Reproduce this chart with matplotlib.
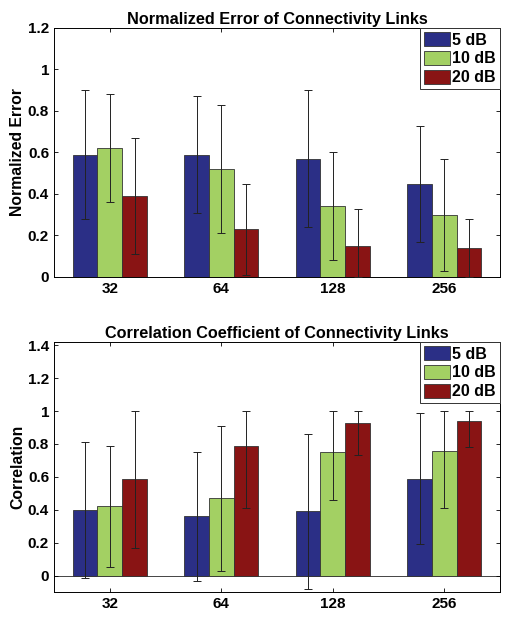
import numpy as np
import matplotlib
matplotlib.use('Agg')
import matplotlib.pyplot as plt

plt.rcParams['font.family'] = ['Liberation Sans', 'DejaVu Sans']
plt.rcParams['font.weight'] = 'bold'

# Data
sizes = ['32', '64', '128', '256']
snr_labels = ['5 dB', '10 dB', '20 dB']
colors = ['#2b2f86', '#a3d063', '#891414']

# Normalized error: mean, lower bound, upper bound of error bars
err_5 = [0.59, 0.59, 0.57, 0.45]
err_10 = [0.62, 0.52, 0.34, 0.30]
err_20 = [0.39, 0.23, 0.15, 0.14]
err_5_lo = [0.28, 0.31, 0.24, 0.17]
err_10_lo = [0.36, 0.21, 0.08, 0.03]
err_20_lo = [0.11, 0.01, 0.00, 0.00]
err_5_hi = [0.90, 0.87, 0.90, 0.73]
err_10_hi = [0.88, 0.83, 0.60, 0.57]
err_20_hi = [0.67, 0.45, 0.33, 0.28]

# Correlation: mean, lower bound, upper bound
cor_5 = [0.40, 0.36, 0.39, 0.59]
cor_10 = [0.42, 0.47, 0.75, 0.76]
cor_20 = [0.59, 0.79, 0.93, 0.94]
cor_5_lo = [-0.015, -0.03, -0.08, 0.19]
cor_10_lo = [0.05, 0.03, 0.46, 0.41]
cor_20_lo = [0.17, 0.41, 0.73, 0.78]
cor_5_hi = [0.81, 0.75, 0.86, 0.99]
cor_10_hi = [0.79, 0.91, 1.00, 1.00]
cor_20_hi = [1.00, 1.00, 1.00, 1.00]


def grouped_bars(ax, means, lows, highs):
    x = np.arange(1, len(sizes) + 1)
    width = 0.222
    offsets = [-width, 0, width]
    for i, (m, lo, hi) in enumerate(zip(means, lows, highs)):
        m = np.array(m)
        yerr = [m - np.array(lo), np.array(hi) - m]
        ax.bar(x + offsets[i], m, width, color=colors[i], edgecolor='#333333',
               linewidth=0.6, label=snr_labels[i], zorder=2)
        ax.errorbar(x + offsets[i], m, yerr=yerr, fmt='none', ecolor='#222222',
                    elinewidth=0.7, capsize=3, capthick=0.7, zorder=3)
    ax.set_xticks(x)
    ax.set_xticklabels(sizes)
    ax.set_xlim(0.5, 4.5)
    ax.tick_params(direction='in', top=True, right=True, labelsize=11,
                   length=3, width=0.6)
    for lab in ax.get_xticklabels() + ax.get_yticklabels():
        lab.set_fontweight('bold')
    for sp in ax.spines.values():
        sp.set_linewidth(0.7)
    leg = ax.legend(loc='upper right', fontsize=11.5, handlelength=1.65,
                    handleheight=1.0, handletextpad=0.15, borderpad=0.25,
                    labelspacing=0.2, borderaxespad=0.0, fancybox=False,
                    edgecolor='#333333', framealpha=1)
    leg.get_frame().set_linewidth(0.7)
    for t in leg.get_texts():
        t.set_fontweight('bold')


fig = plt.figure(figsize=(5.14, 6.22), dpi=100)

ax1 = fig.add_axes([0.105, 0.5547, 0.868, 0.4003])
grouped_bars(ax1, [err_5, err_10, err_20],
             [err_5_lo, err_10_lo, err_20_lo],
             [err_5_hi, err_10_hi, err_20_hi])
ax1.set_ylim(0, 1.2)
ax1.set_yticks(np.arange(0, 1.21, 0.2))
ax1.set_yticklabels(['0', '0.2', '0.4', '0.6', '0.8', '1', '1.2'])
ax1.set_ylabel('Normalized Error', fontsize=11.3, fontweight='bold', labelpad=2)
ax1.set_title('Normalized Error of Connectivity Links', fontsize=11.7,
              fontweight='bold', pad=3)

ax2 = fig.add_axes([0.105, 0.0482, 0.868, 0.402])
grouped_bars(ax2, [cor_5, cor_10, cor_20],
             [cor_5_lo, cor_10_lo, cor_20_lo],
             [cor_5_hi, cor_10_hi, cor_20_hi])
ax2.axhline(0, color='#444444', linewidth=0.7, zorder=1)
ax2.set_ylim(-0.1, 1.42)
ax2.set_yticks(np.arange(0, 1.41, 0.2))
ax2.set_yticklabels(['0', '0.2', '0.4', '0.6', '0.8', '1', '1.2', '1.4'])
ax2.set_ylabel('Correlation', fontsize=11.3, fontweight='bold', labelpad=2)
ax2.set_title('Correlation Coefficient of Connectivity Links', fontsize=11.7,
              fontweight='bold', pad=3)

fig.savefig('out.png', dpi=100)
